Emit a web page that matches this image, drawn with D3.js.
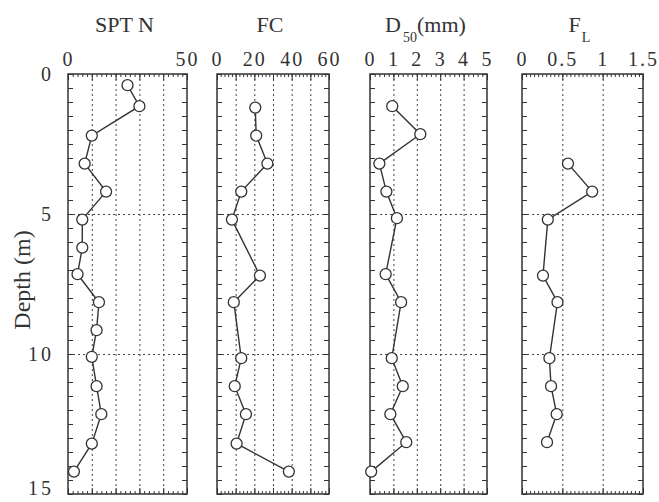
<!DOCTYPE html>
<html>
<head>
<meta charset="utf-8">
<script src="https://cdn.jsdelivr.net/npm/d3@7"></script>
<style>
  body { margin: 0; background: #fff; }
  text { font-family: "Liberation Serif", "Times New Roman", serif; fill: #333; }
</style>
</head>
<body>
<svg id="chart"></svg>
<script>
"use strict";

// data
const sptDepth = [0.4, 1.15, 2.2, 3.2, 4.2, 5.2, 6.2, 7.15, 8.15, 9.15, 10.1, 11.15, 12.15, 13.2, 14.2];
const sptN = [25, 30, 10, 7, 16, 6, 6, 4, 13, 12, 10, 12, 14, 10, 2.5];

const fcDepth = [1.2, 2.2, 3.2, 4.2, 5.2, 7.2, 8.15, 10.15, 11.15, 12.15, 13.2, 14.2];
const fcValue = [20.5, 21, 27, 13, 8, 23, 9, 13, 9.5, 15.5, 10.5, 38.5];

const d50Depth = [1.15, 2.15, 3.2, 4.2, 5.15, 7.15, 8.15, 10.15, 11.15, 12.15, 13.15, 14.2];
const d50Value = [0.95, 2.15, 0.4, 0.7, 1.15, 0.67, 1.33, 0.93, 1.4, 0.87, 1.55, 0.05];

const flDepth = [3.2, 4.2, 5.2, 7.2, 8.15, 10.15, 11.15, 12.15, 13.15];
const flValue = [0.57, 0.87, 0.32, 0.26, 0.44, 0.34, 0.36, 0.43, 0.31];

const depthTicks = [0, 5, 10, 15];
const depthGrid = [5, 10];

const width = 659;
const height = 502;
const ink = "#333";

const svg = d3.select("#chart")
    .attr("width", width)
    .attr("height", height);

const y = d3.scaleLinear().domain([0, 15]).range([74, 494]);

// panel layout
const panels = [
    { title: "SPT N", depth: sptDepth, values: sptN, domain: [0, 50], range: [68, 187],
      labels: [0, 50], grid: [10, 20, 30, 40], major: 10, minor: 2 },
    { title: "FC", depth: fcDepth, values: fcValue, domain: [0, 60], range: [217, 329],
      labels: [0, 20, 40, 60], grid: [10, 20, 30, 40, 50], major: 10, minor: 2 },
    { title: "D50", depth: d50Depth, values: d50Value, domain: [0, 5], range: [370, 487],
      labels: [0, 1, 2, 3, 4, 5], grid: [1, 2, 3, 4], major: 1, minor: 0.2 },
    { title: "FL", depth: flDepth, values: flValue, domain: [0, 1.5], range: [522, 643],
      labels: [0, 0.5, 1, 1.5], grid: [0.5, 1], major: 0.5, minor: 0.05 }
];

const stepValues = (domain, step) => d3.range(0, Math.round((domain[1] - domain[0]) / step) + 1)
    .map(i => +(domain[0] + i * step).toFixed(4));

panels.forEach((p, i) => {
    const x = d3.scaleLinear().domain(p.domain).range(p.range);
    const g = svg.append("g");
    const top = y.range()[0];
    const bottom = y.range()[1];
    const w = p.range[1] - p.range[0];
    const h = bottom - top;

    // dotted grid
    g.append("g")
        .attr("transform", `translate(0,${top})`)
        .call(d3.axisBottom(x).tickValues(p.grid).tickSize(h).tickFormat(""))
        .call(a => a.select(".domain").remove())
        .call(a => a.selectAll("line").attr("stroke", "#444").attr("stroke-dasharray", "2,3"));
    g.append("g")
        .attr("transform", `translate(${p.range[0]},0)`)
        .call(d3.axisRight(y).tickValues(depthGrid).tickSize(w).tickFormat(""))
        .call(a => a.select(".domain").remove())
        .call(a => a.selectAll("line").attr("stroke", "#444").attr("stroke-dasharray", "2,3"));

    // inward ticks on the four sides
    const minorVals = stepValues(p.domain, p.minor);
    const majorVals = stepValues(p.domain, p.major);
    const tickAxes = [
        [d3.axisTop(x).tickValues(minorVals).tickSize(-3), `translate(0,${top})`],
        [d3.axisTop(x).tickValues(majorVals).tickSize(-6), `translate(0,${top})`],
        [d3.axisBottom(x).tickValues(minorVals).tickSize(-3), `translate(0,${bottom})`],
        [d3.axisBottom(x).tickValues(majorVals).tickSize(-6), `translate(0,${bottom})`],
        [d3.axisLeft(y).tickValues(d3.range(0, 15.01, 0.5)).tickSize(-5), `translate(${p.range[0]},0)`],
        [d3.axisRight(y).tickValues(d3.range(0, 15.01, 0.5)).tickSize(-5), `translate(${p.range[1]},0)`]
    ];
    tickAxes.forEach(([ax, tr]) => {
        g.append("g")
            .attr("transform", tr)
            .call(ax.tickFormat(""))
            .call(a => a.select(".domain").remove())
            .call(a => a.selectAll("line").attr("stroke", ink).attr("stroke-width", 1));
    });

    // frame
    g.append("rect")
        .attr("x", p.range[0]).attr("y", top)
        .attr("width", w).attr("height", h)
        .attr("fill", "none").attr("stroke", ink).attr("stroke-width", 1.5);

    // top tick labels
    g.append("g")
        .attr("transform", `translate(0,${top})`)
        .call(d3.axisTop(x).tickValues(p.labels).tickSize(0).tickPadding(8).tickFormat(d3.format("")))
        .call(a => a.select(".domain").remove())
        .call(a => a.selectAll("text")
            .attr("fill", ink)
            .style("font-family", "Liberation Serif, serif")
            .style("font-size", "20px")
            .style("letter-spacing", "2px"));

    // title
    const cx = (p.range[0] + p.range[1]) / 2 - 3;
    const title = g.append("text")
        .attr("x", cx).attr("y", 32)
        .attr("text-anchor", "middle")
        .style("font-size", "22px");
    if (p.title === "D50") {
        title.append("tspan").text("D");
        title.append("tspan").attr("dx", 2).attr("dy", 10).style("font-size", "14px").text("50");
        title.append("tspan").attr("dy", -10).text("(mm)");
    } else if (p.title === "FL") {
        title.append("tspan").text("F");
        title.append("tspan").attr("dx", 1).attr("dy", 10).style("font-size", "14px").text("L");
    } else {
        title.text(p.title);
    }

    // profile line and points
    const pts = p.depth.map((d, k) => ({ depth: d, value: p.values[k] }));
    const line = d3.line()
        .x(d => x(d.value))
        .y(d => y(d.depth));
    g.append("path")
        .attr("d", line(pts))
        .attr("fill", "none")
        .attr("stroke", ink)
        .attr("stroke-width", 1.4);
    g.selectAll("circle")
        .data(pts)
        .join("circle")
        .attr("cx", d => x(d.value))
        .attr("cy", d => y(d.depth))
        .attr("r", 5.5)
        .attr("fill", "#fff")
        .attr("stroke", ink)
        .attr("stroke-width", 1.3);

    // depth labels on first panel
    if (i === 0) {
        svg.append("g")
            .attr("transform", `translate(${p.range[0]},0)`)
            .call(d3.axisLeft(y).tickValues(depthTicks).tickSize(0).tickPadding(14))
            .call(a => a.select(".domain").remove())
            .call(a => a.selectAll("text")
                .attr("fill", ink)
                .attr("dy", d => d === 15 ? "0.02em" : "0.32em")
                .style("font-family", "Liberation Serif, serif")
                .style("font-size", "20px")
                .style("letter-spacing", "3px"));
    }
});

// y axis title
svg.append("text")
    .attr("transform", "translate(30,280) rotate(-90)")
    .attr("text-anchor", "middle")
    .style("font-size", "24px")
    .text("Depth (m)");
</script>
</body>
</html>
